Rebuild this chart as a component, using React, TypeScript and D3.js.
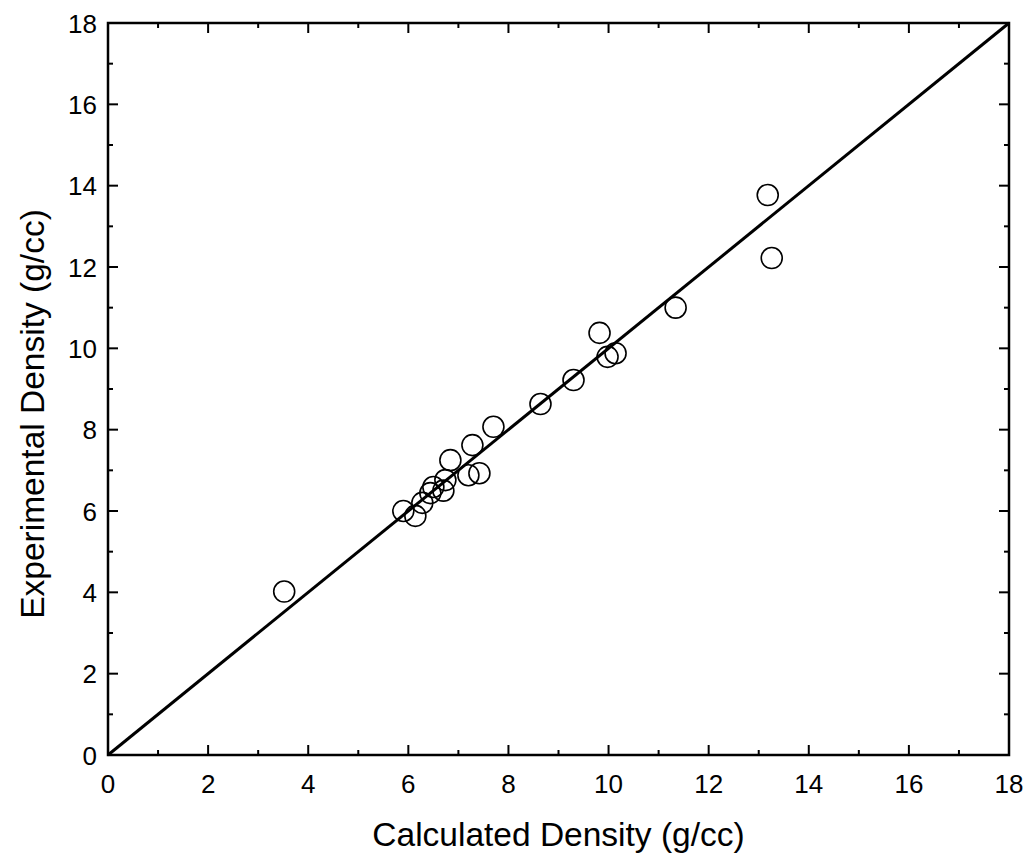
import React, { useRef, useEffect } from 'react';
import * as d3 from 'd3';

// calculated vs experimental densities (g/cc)
const calculated = [3.52, 5.9, 6.14, 6.28, 6.44, 6.5, 6.7, 6.74, 6.84, 7.2, 7.42, 7.28, 7.7, 8.64, 9.3, 9.82, 9.98, 10.14, 11.34, 13.18, 13.26];
const experimental = [4.02, 6.0, 5.88, 6.2, 6.44, 6.59, 6.5, 6.76, 7.25, 6.88, 6.93, 7.62, 8.07, 8.63, 9.22, 10.38, 9.79, 9.88, 11.0, 13.77, 12.22];
const majorTicks = [0, 2, 4, 6, 8, 10, 12, 14, 16, 18];
const minorTicks = [1, 3, 5, 7, 9, 11, 13, 15, 17];

const W = 1031;
const H = 854;
const margin = { top: 23, right: 22, bottom: 99, left: 108 };

const App = () => {
    const ref = useRef<SVGSVGElement>(null);

    useEffect(() => {
        if (!ref.current) return;
        const svg = d3.select(ref.current);
        svg.selectAll('*').remove();

        const x = d3.scaleLinear().domain([0, 18]).range([margin.left, W - margin.right]);
        const y = d3.scaleLinear().domain([0, 18]).range([H - margin.bottom, margin.top]);
        const font = 'Liberation Sans, Arial, sans-serif';
        const majorLen = 10;
        const minorLen = 5;

        const g = svg.append('g');

        // y = x line
        g.append('line')
            .attr('x1', x(0)).attr('y1', y(0))
            .attr('x2', x(18)).attr('y2', y(18))
            .attr('stroke', '#000').attr('stroke-width', 3);

        // points
        g.selectAll('circle')
            .data(calculated.map((c, i) => [c, experimental[i]]))
            .join('circle')
            .attr('cx', d => x(d[0]))
            .attr('cy', d => y(d[1]))
            .attr('r', 10.5)
            .attr('fill', 'none')
            .attr('stroke', '#000')
            .attr('stroke-width', 1.6);

        // ticks (inward on all four sides)
        const ticks = svg.append('g').attr('stroke', '#000').attr('stroke-width', 2);
        const addTicks = (vals: number[], len: number) => {
            vals.forEach(v => {
                ticks.append('line').attr('x1', x(v)).attr('x2', x(v)).attr('y1', y(0)).attr('y2', y(0) - len);
                ticks.append('line').attr('x1', x(v)).attr('x2', x(v)).attr('y1', y(18)).attr('y2', y(18) + len);
                ticks.append('line').attr('y1', y(v)).attr('y2', y(v)).attr('x1', x(0)).attr('x2', x(0) + len);
                ticks.append('line').attr('y1', y(v)).attr('y2', y(v)).attr('x1', x(18)).attr('x2', x(18) - len);
            });
        };
        addTicks(majorTicks, majorLen);
        addTicks(minorTicks, minorLen);

        // frame
        svg.append('rect')
            .attr('x', x(0)).attr('y', y(18))
            .attr('width', x(18) - x(0)).attr('height', y(0) - y(18))
            .attr('fill', 'none').attr('stroke', '#000').attr('stroke-width', 2.5);

        // tick labels
        svg.append('g').selectAll('text')
            .data(majorTicks)
            .join('text')
            .attr('x', d => x(d))
            .attr('y', y(0) + 38)
            .attr('text-anchor', 'middle')
            .attr('font-family', font)
            .attr('font-size', 26)
            .text(d => d);

        svg.append('g').selectAll('text')
            .data(majorTicks)
            .join('text')
            .attr('x', x(0) - 11)
            .attr('y', d => y(d) + 9.5)
            .attr('text-anchor', 'end')
            .attr('font-family', font)
            .attr('font-size', 26)
            .text(d => d);

        // axis titles
        svg.append('text')
            .attr('x', (x(0) + x(18)) / 2)
            .attr('y', 846)
            .attr('text-anchor', 'middle')
            .attr('font-family', font)
            .attr('font-size', 33.5)
            .text('Calculated Density (g/cc)');

        svg.append('text')
            .attr('transform', `translate(44, 414) rotate(-90)`)
            .attr('text-anchor', 'middle')
            .attr('font-family', font)
            .attr('font-size', 33.5)
            .text('Experimental Density (g/cc)');
    }, []);

    return (
        <svg ref={ref} width={W} height={H}
            style={{ position: 'absolute', left: 0, top: 0, background: '#fff' }} />
    );
};

export default App;
